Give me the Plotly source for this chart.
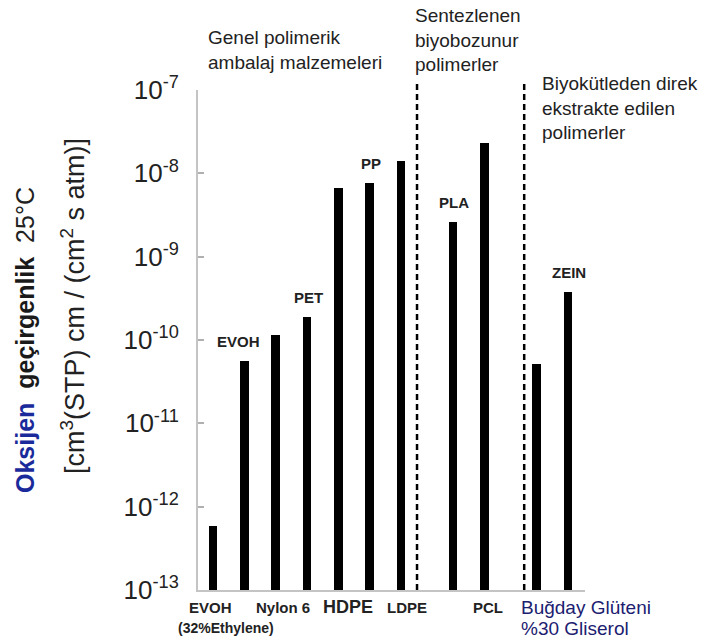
import math
import plotly.graph_objects as go

# Oxygen permeability of packaging polymers at 25 °C
materials = ["EVOH (32% Ethylene)", "EVOH", "Nylon 6", "PET", "HDPE", "PP", "LDPE",
             "PLA", "PCL", "Buğday Glüteni / %30 Gliserol", "Zein"]
permeability = [5.8e-13, 5.6e-11, 1.15e-10, 1.9e-10, 6.6e-9, 7.6e-9, 1.4e-8,
                2.6e-9, 2.3e-8, 5.2e-11, 3.8e-10]
group_index = [0, 0, 0, 0, 0, 0, 0, 1, 1, 2, 2]
bar_tags = ["", "EVOH", "", "PET", "", "PP", "", "PLA", "", "", "ZEIN"]
group_titles = ["Genel polimerik<br>ambalaj malzemeleri",
                "Sentezlenen<br>biyobozunur<br>polimerler",
                "Biyokütleden direk<br>ekstrakte edilen<br>polimerler"]
tick_exponents = [-13, -12, -11, -10, -9, -8, -7]

FONT = "Liberation Sans, Arial, sans-serif"
TEXT = "#222222"
NAVY = "#1b2070"
AXIS = "#c4c4c4"

# bar positions: unit step inside a group, wider step between groups
GROUP_GAP = 0.66
xpos = [i + g * GROUP_GAP for i, g in enumerate(group_index)]
separators = [6.51, 9.93]

fig = go.Figure()
fig.add_trace(go.Bar(
    x=xpos, y=permeability, width=0.27,
    marker=dict(color="black", line=dict(width=0)),
    hovertext=materials, hoverinfo="text+y", showlegend=False,
))

annotations = []

# value tags above selected bars
for x, v, tag in zip(xpos, permeability, bar_tags):
    if tag:
        annotations.append(dict(
            x=x, y=math.log10(v), xref="x", yref="y", text=f"<b>{tag}</b>",
            showarrow=False, xanchor="center", yanchor="bottom", yshift=9,
            xshift=-6 if tag == "EVOH" else 1,
            font=dict(family=FONT, size=15, color=TEXT)))

# labels under the axis: (bar index, text, size, bold, xshift, anchor, row)
bottom_labels = [
    (0, "EVOH", 15, True, -3, "center", 0),
    (0, "(32%Ethylene)", 14, True, 13, "center", 1),
    (2, "Nylon 6", 15, True, 7, "center", 0),
    (4, "HDPE", 18, True, 10, "center", 0),
    (6, "LDPE", 15, True, 6, "center", 0),
    (8, "PCL", 15, True, 4, "center", 0),
    (9, "Buğday Glüteni", 19, False, -17, "left", 0),
    (9, "%30 Gliserol", 19, False, -17, "left", 1),
]
for idx, text, size, bold, shift, anchor, row in bottom_labels:
    annotations.append(dict(
        x=xpos[idx], y=-0.034 - row * 0.042, xref="x", yref="paper",
        text=f"<b>{text}</b>" if bold else text, showarrow=False,
        xanchor=anchor, yanchor="middle", align="left", xshift=shift,
        font=dict(family=FONT, size=size, color=TEXT if bold else NAVY)))

# group headings
for title, (gx, gy) in zip(group_titles, [(0.021, 1.081), (0.556, 1.101), (0.884, 0.965)]):
    annotations.append(dict(
        x=gx, y=gy, xref="paper", yref="paper", text=title, showarrow=False,
        xanchor="left", yanchor="middle", align="left",
        font=dict(family=FONT, size=19, color=TEXT)))

# rotated y-axis title in two lines
annotations.append(dict(
    x=-0.447, y=0.5, xref="paper", yref="paper", textangle=-90, showarrow=False,
    xanchor="center", yanchor="middle",
    text=("<b><span style='color:#1a2a9a'>Oksijen</span>  geçirgenlik</b>  "
          "<span style='color:#222'>25°C</span>"),
    font=dict(family=FONT, size=25, color="#1a1a1a")))
annotations.append(dict(
    x=-0.323, y=0.568, xref="paper", yref="paper", textangle=-90, showarrow=False,
    xanchor="center", yanchor="middle",
    text="[cm<sup>3</sup>(STP) cm / (cm<sup>2</sup> s atm)]",
    font=dict(family=FONT, size=27, color=TEXT)))

shapes = [dict(type="line", xref="x", yref="paper", x0=sx, x1=sx, y0=0, y1=1.02,
               line=dict(color="black", width=2.5, dash="6px,4px"))
          for sx in separators]

fig.update_layout(
    width=715, height=644,
    margin=dict(l=198, r=130, t=90, b=54),
    paper_bgcolor="white", plot_bgcolor="white",
    bargap=0, showlegend=False,
    annotations=annotations, shapes=shapes,
    xaxis=dict(range=[-0.479, 11.87], showgrid=False, zeroline=False,
               showticklabels=False, ticks="", showline=True,
               linecolor=AXIS, linewidth=2),
    yaxis=dict(type="log", range=[-13, -7], showgrid=False, zeroline=False,
               tickvals=[10.0 ** e for e in tick_exponents],
               ticktext=[f"10<sup>{e}</sup>" for e in tick_exponents],
               tickfont=dict(family=FONT, size=26, color=TEXT),
               ticks="inside", ticklen=6, tickcolor="#b0b0b0", tickwidth=1.5,
               ticklabelstandoff=12, showline=True, linecolor=AXIS, linewidth=2),
)

fig.write_html("out.html")
